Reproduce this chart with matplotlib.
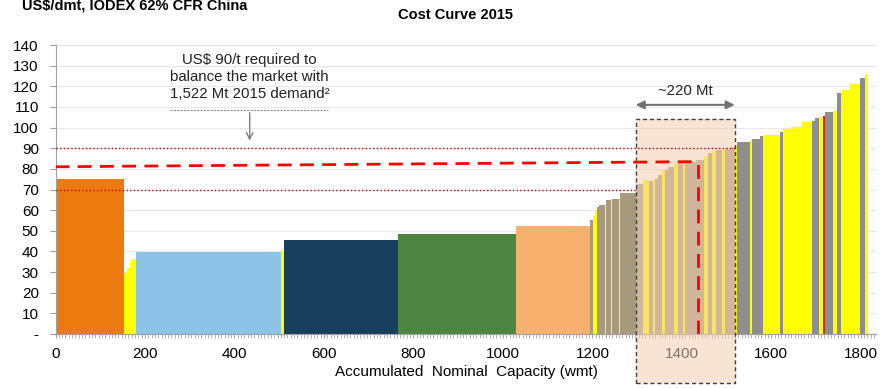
import numpy as np
import matplotlib.pyplot as plt
from matplotlib.patches import Rectangle
from matplotlib.ticker import MultipleLocator

plt.rcParams['font.family'] = ['Liberation Sans', 'DejaVu Sans']

# producer capacity blocks (Mt) and cash cost (US$/dmt), in cost order
capacity = [153, 7, 6, 6, 8, 325, 5, 255, 264, 165,
            7, 4, 5, 4, 14, 2, 11, 2, 16, 2, 36,
            16, 13, 10, 4, 6, 9, 7, 7, 14, 9, 11, 5, 24, 18, 9, 9, 9, 13, 7, 13, 8,
            5, 29, 4, 18, 7, 38, 7, 19, 23, 22, 7, 9, 9, 5, 17, 9, 9, 20, 23, 11, 7]
cost = [75, 29.5, 32, 35, 36.5, 39.5, 40.5, 45.5, 48.5, 52.5,
        55, 57, 60, 61.5, 62.5, 63, 65, 65.5, 65.5, 66, 68.2,
        72.5, 74.5, 74, 74.5, 75, 77, 79.5, 79.5, 81, 82.7, 82.7, 83, 83.5, 84.5, 86, 87.5, 88.5, 89, 89, 89.5, 90.5,
        91, 93.2, 93.5, 94.3, 96, 96.4, 98, 99.2, 100.5, 102.5, 103, 104.5, 105, 105.6, 107.7, 108, 116.6, 118, 121, 124, 126]
group = ['O', 'Y', 'Y', 'Y', 'Y', 'LB', 'Y', 'N', 'G', 'LO',
         'T', 'Y', 'Y', 'T', 'T', 'Y', 'T', 'Y', 'T', 'Y', 'T',
         'T', 'Y', 'T', 'Y', 'T', 'T', 'Y', 'T', 'T', 'Y', 'T', 'Y', 'T', 'T', 'Y', 'T', 'Y', 'T', 'Y', 'T', 'T',
         'Y', 'Gr', 'Y', 'Gr', 'Gr', 'Y', 'Gr', 'Y', 'Y', 'Y', 'Gr', 'Gr', 'Y', 'R', 'Gr', 'Y', 'Gr', 'Y', 'Y', 'Gr', 'Y']

palette = {'O': '#EC7A0E', 'Y': '#FFFF00', 'LB': '#8DC3E6', 'N': '#17405C',
           'G': '#4E8542', 'LO': '#F6B16E', 'T': '#A89B7D', 'Gr': '#8E8E8E',
           'R': '#C0302A'}

yticks = list(range(0, 150, 10))
ytick_labels = ['-'] + [str(v) for v in yticks[1:]]
xticks = list(range(0, 2000, 200))

price_low, price_high = 70, 90
marginal_x, marginal_cost = 1436, 83.5
box_left, box_right, box_top = 1297, 1518, 104

fig = plt.figure(figsize=(8.93, 3.88), dpi=100)
ax = fig.add_axes([55.5 / 893, 54 / 388, 821 / 893, 289 / 388])

lefts = np.concatenate([[0], np.cumsum(capacity)[:-1]])
ax.bar(lefts, cost, width=capacity, align='edge',
       color=[palette[g] for g in group], linewidth=0, zorder=2)

ax.set_xlim(0, 1835)
ax.set_ylim(0, 140)
ax.set_yticks(yticks)
ax.set_yticklabels(ytick_labels)
ax.set_xticks(xticks)
ax.xaxis.set_minor_locator(MultipleLocator(200 / 27))
ax.grid(axis='y', color='#E8E8E8', linewidth=0.8, zorder=0)
for s in ['top', 'right']:
    ax.spines[s].set_visible(False)
ax.spines['left'].set_color('#A0A0A0')
ax.spines['bottom'].set_color('#A0A0A0')
ax.tick_params(axis='y', length=4, color='#A0A0A0', labelsize=11, pad=8)
ax.tick_params(axis='x', which='both', length=3, color='#A0A0A0', labelsize=11, pad=6)
ax.set_xlabel('Accumulated  Nominal  Capacity (wmt)', fontsize=11, labelpad=3)

# highlighted ~220 Mt window
ax.add_patch(Rectangle((box_left, -23.7), box_right - box_left, box_top + 23.7,
                       facecolor='#F3CDB4', alpha=0.55, edgecolor='none',
                       clip_on=False, zorder=3))
ax.add_patch(Rectangle((box_left, -23.7), box_right - box_left, box_top + 23.7,
                       facecolor='none', edgecolor='#404040', linestyle=(0, (3, 2)),
                       linewidth=1, clip_on=False, zorder=4))

# price reference lines
ax.plot([0, box_right], [price_high, price_high], color='#C00000', linestyle=':',
        linewidth=1, zorder=5)
ax.plot([0, box_left], [price_low, price_low], color='#C00000', linestyle=':',
        linewidth=1, zorder=5)
ax.plot([0, marginal_x], [81, marginal_cost], color='#FF0000', linestyle=(0, (5, 3)),
        linewidth=2, zorder=5)
ax.plot([marginal_x, marginal_x], [0, marginal_cost], color='#FF0000',
        linestyle=(0, (5, 3)), linewidth=2, zorder=5)

# annotations
ax.text(434, 124.5, 'US$ 90/t required to\nbalance the market with\n1,522 Mt 2015 demand²',
        ha='center', va='center', fontsize=10.8, color='#222222', linespacing=1.25, zorder=6)
ax.plot([255, 608], [108.5, 108.5], color='#909090', linestyle=(0, (2, 1)),
        linewidth=0.8, zorder=6)
ax.annotate('', xy=(434, 92.3), xytext=(434, 108.5),
            arrowprops=dict(arrowstyle='->', color='#808080', lw=1, mutation_scale=12), zorder=6)
ax.annotate('', xy=(box_left, 111), xytext=(box_right, 111),
            arrowprops=dict(arrowstyle='<|-|>', color='#707070', lw=1.5, mutation_scale=12,
                            shrinkA=0, shrinkB=0), zorder=6)
ax.text((box_left + box_right) / 2, 117.5, '~220 Mt', ha='center', va='center',
        fontsize=10.8, color='#222222', zorder=6)

fig.text(455 / 893, 1 - 15 / 388, 'Cost Curve 2015', ha='center', va='center',
         fontsize=10.5, fontweight='bold')
fig.text(22 / 893, 1 - 10 / 388, 'US$/dmt, IODEX 62% CFR China', ha='left',
         va='baseline', fontsize=10.5, fontweight='bold')

fig.savefig('out.png', dpi=100)
